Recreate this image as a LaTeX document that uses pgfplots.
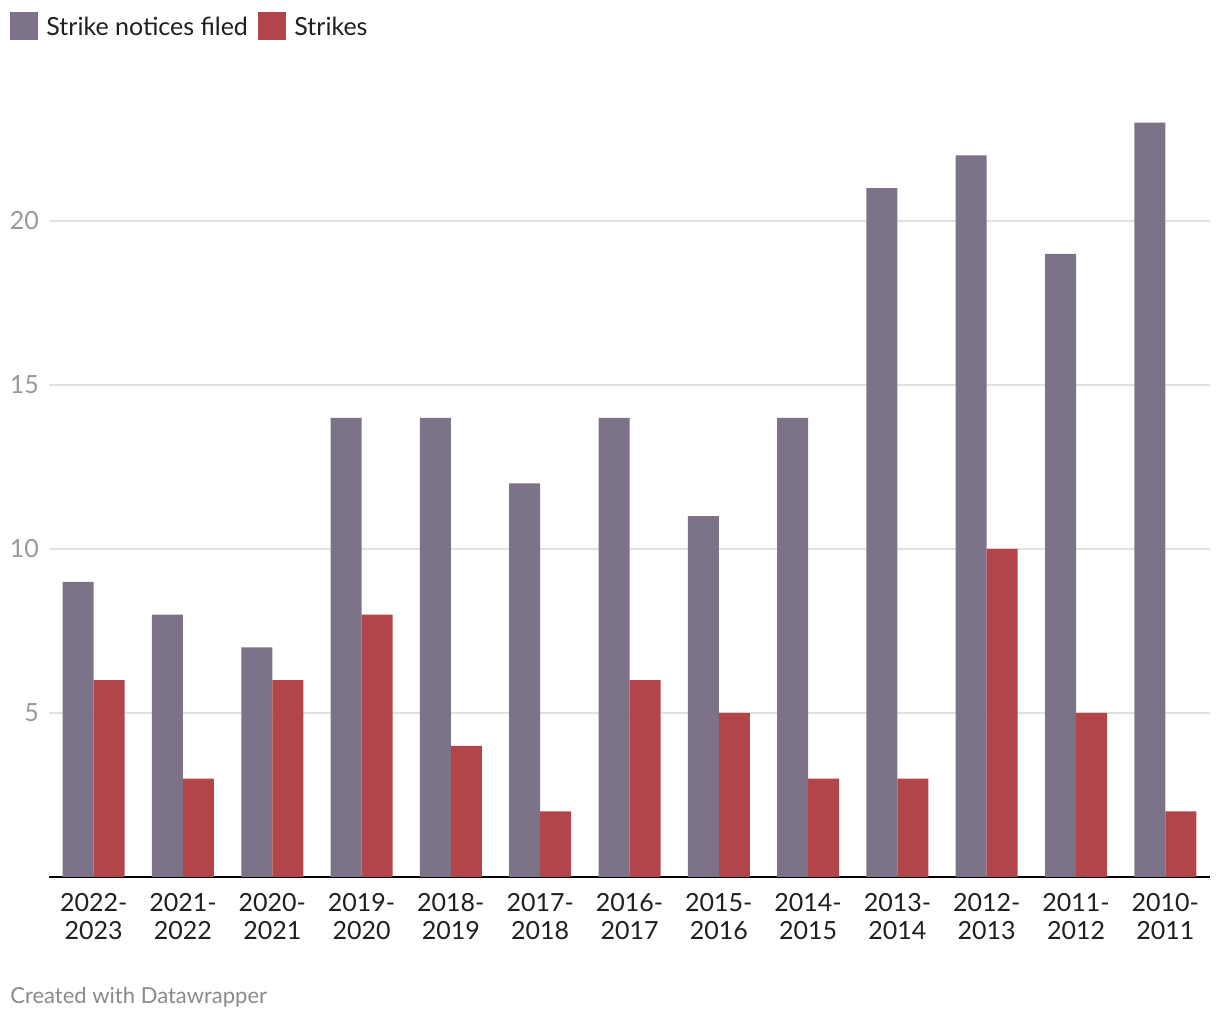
\documentclass[border=0pt]{standalone}
\usepackage{pgfplots}
\pgfplotsset{compat=1.18}
\usepackage{fontspec}
\setmainfont{Lato}
\definecolor{cNot}{HTML}{7D7389}
\definecolor{cStr}{HTML}{B2454A}
\definecolor{cGrid}{HTML}{E2E2E2}
\definecolor{cTick}{HTML}{999999}
\definecolor{cTxt}{HTML}{1F1F1F}
\begin{document}
\begin{tikzpicture}
\path[use as bounding box] (0,0) rectangle (610pt,510pt);
\begin{axis}[
  at={(24.5pt,71.5pt)}, anchor=south west,
  scale only axis, width=580.5pt, height=393.6pt,
  ybar=0pt, bar width=15.5pt,
  xmin=-0.5, xmax=12.5, ymin=0, ymax=24,
  xtick=data,
  xticklabels={{2022-\\2023},{2021-\\2022},{2020-\\2021},{2019-\\2020},{2018-\\2019},{2017-\\2018},{2016-\\2017},{2015-\\2016},{2014-\\2015},{2013-\\2014},{2012-\\2013},{2011-\\2012},{2010-\\2011}},
  xticklabel style={align=center, font=\fontsize{12.5}{14}\selectfont, text=cTxt, yshift=-4.5pt},
  ytick={5,10,15,20},
  yticklabel style={font=\fontsize{12.5}{14}\selectfont, text=cTick, anchor=east, xshift=-1.5pt},
  /pgf/number format/assume math mode=true,
  ymajorgrids, grid style={cGrid, line width=0.6pt},
  axis x line*=bottom, axis y line*=left,
  x axis line style={black, line width=1pt, -},
  y axis line style={draw=none},
  major tick length=0pt,
  every axis plot/.append style={draw=none},
  clip=false,
]
\addplot[fill=cNot] coordinates {(0,9) (1,8) (2,7) (3,14) (4,14) (5,12) (6,14) (7,11) (8,14) (9,21) (10,22) (11,19) (12,23)};
\addplot[fill=cStr] coordinates {(0,6) (1,3) (2,6) (3,8) (4,4) (5,2) (6,6) (7,5) (8,3) (9,3) (10,10) (11,5) (12,2)};
\end{axis}
\fill[cNot] (5pt,490pt) rectangle (19pt,504pt);
\node[anchor=west, inner sep=0pt, text=cTxt, font=\fontsize{12.5}{14}\selectfont] at (23pt,497pt) {Strike notices filed};
\fill[cStr] (129pt,490pt) rectangle (143pt,504pt);
\node[anchor=west, inner sep=0pt, text=cTxt, font=\fontsize{12.5}{14}\selectfont] at (147pt,497pt) {Strikes};
\node[anchor=west, inner sep=0pt, text=cTick!90!black, font=\fontsize{11}{13}\selectfont] at (5pt,11.5pt) {Created with Datawrapper};
\end{tikzpicture}
\end{document}
